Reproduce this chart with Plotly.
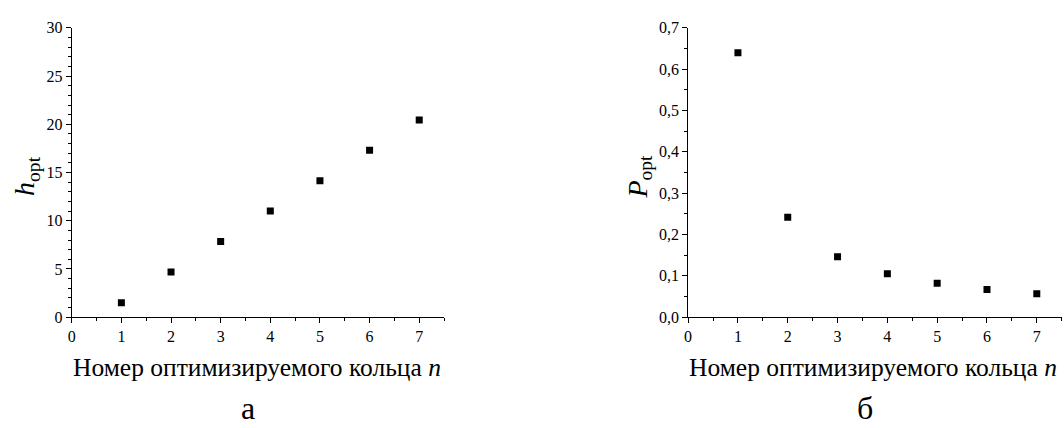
import plotly.graph_objects as go

# Ring numbers and optimal values for the two panels
ring_n = [1, 2, 3, 4, 5, 6, 7]
h_opt = [1.5, 4.7, 7.85, 11.0, 14.15, 17.3, 20.45]
p_opt = [0.640, 0.242, 0.146, 0.105, 0.082, 0.067, 0.057]

x_title = "Номер оптимизируемого кольца <i>n</i>"
panel_labels = ["а", "б"]

FONT = "Liberation Serif"

fig = go.Figure()
fig.add_trace(go.Scatter(x=ring_n, y=h_opt, mode="markers", xaxis="x", yaxis="y",
                         marker=dict(symbol="square", size=7, color="black")))
fig.add_trace(go.Scatter(x=ring_n, y=p_opt, mode="markers", xaxis="x2", yaxis="y2",
                         marker=dict(symbol="square", size=7, color="black")))

W, H = 1064, 428
y_dom = [(H - 322) / H, (H - 20.7) / H]
x1_dom = [68 / W, 441.7 / W]
x2_dom = [686.7 / W, 1061.7 / W]

axis_common = dict(showline=True, linecolor="black", linewidth=1, showgrid=False,
                   zeroline=False, ticks="outside", ticklen=5, tickwidth=1,
                   tickcolor="black", mirror=False,
                   tickfont=dict(family=FONT, size=16, color="black"))
minor_x = dict(ticks="outside", ticklen=3, tickwidth=1, tickcolor="black", dtick=0.5)

fig.update_layout(
    width=W, height=H, margin=dict(l=0, r=0, t=0, b=0),
    paper_bgcolor="white", plot_bgcolor="white", showlegend=False,
    separators=", ",
    font=dict(family=FONT, color="black"),
    xaxis=dict(domain=x1_dom, range=[0, 7.5], dtick=1, anchor="y",
               minor=minor_x, **axis_common),
    yaxis=dict(domain=y_dom, range=[0, 30], dtick=5, anchor="x",
               minor=dict(ticks="outside", ticklen=3, tickwidth=1,
                          tickcolor="black", dtick=1), **axis_common),
    xaxis2=dict(domain=x2_dom, range=[0, 7.5], dtick=1, anchor="y2",
                minor=minor_x, **axis_common),
    yaxis2=dict(domain=y_dom, range=[0, 0.7], dtick=0.1, tickformat=".1f",
                anchor="x2",
                minor=dict(ticks="outside", ticklen=3, tickwidth=1,
                           tickcolor="black", dtick=0.05), **axis_common),
)

title_font = dict(family=FONT, size=25.5, color="black")
annotations = []
for title_x, label_x, label in zip([253.5, 872], [245, 864], panel_labels):
    annotations.append(dict(text=x_title, x=title_x / W, y=(H - 374) / H,
                            xref="paper", yref="paper", showarrow=False,
                            font=title_font, xanchor="center", yanchor="middle"))
    annotations.append(dict(text=label, x=label_x / W, y=(H - 417) / H,
                            xref="paper", yref="paper", showarrow=False,
                            font=dict(family=FONT, size=32, color="black"),
                            xanchor="center", yanchor="middle"))

annotations.append(dict(text="<i>h</i><sub>opt</sub>", x=22 / W, y=(H - 175) / H,
                        xref="paper", yref="paper", showarrow=False,
                        textangle=-90, font=dict(family=FONT, size=28, color="black"),
                        xanchor="center", yanchor="middle"))
annotations.append(dict(text="<i>P</i><sub>opt</sub>", x=637 / W, y=(H - 176) / H,
                        xref="paper", yref="paper", showarrow=False,
                        textangle=-90, font=dict(family=FONT, size=28, color="black"),
                        xanchor="center", yanchor="middle"))
fig.update_layout(annotations=annotations)

fig.write_html("out.html")
